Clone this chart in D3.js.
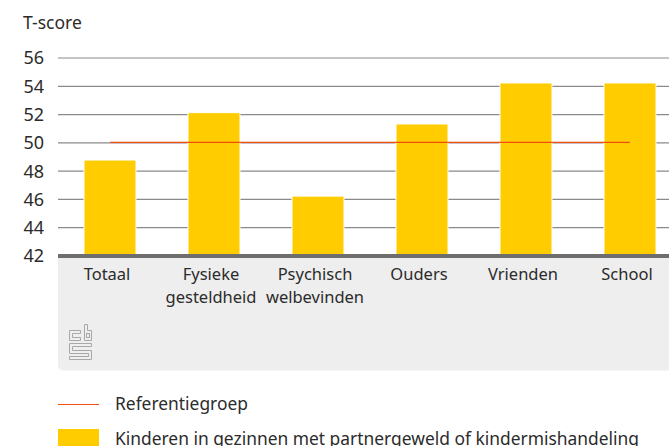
<!DOCTYPE html>
<html>
<head>
<meta charset="utf-8">
<script src="https://cdn.jsdelivr.net/npm/d3@7"></script>
<style>
  html, body { margin: 0; padding: 0; background: #fff; }
  svg { display: block; }
  text { font-family: "Noto Sans", sans-serif; fill: #2b2b2b; }
</style>
</head>
<body>
<div id="chart"></div>
<script>
var categories = [["Totaal"], ["Fysieke", "gesteldheid"], ["Psychisch", "welbevinden"], ["Ouders"], ["Vrienden"], ["School"]];
var scores = [48.75, 52.1, 46.2, 51.3, 54.2, 54.2];
var referentie = [50, 50, 50, 50, 50, 50];
var yTicks = [42, 44, 46, 48, 50, 52, 54, 56];
var legendLabels = ["Referentiegroep", "Kinderen in gezinnen met partnergeweld of kindermishandeling"];

var width = 669;
var height = 446;
var left = 58;
var top_ = 57.5;
var bottom = 255.5;

var svg = d3.select("#chart").append("svg")
  .attr("width", width)
  .attr("height", height);

// last band runs past the right edge, same as the reference
var x = d3.scaleBand()
  .domain(d3.range(categories.length))
  .range([left, left + 624])
  .paddingInner(0.5)
  .paddingOuter(0.25);

var y = d3.scaleLinear()
  .domain([42, 56])
  .range([bottom, top_]);

// grey panel under the axis
svg.append("path")
  .attr("d", "M" + left + ",256H" + width + "V370.5H" + (left + 6) + "Q" + left + ",370.5 " + left + ",364.5Z")
  .attr("fill", "#eeeeee");

svg.append("text")
  .attr("x", 23).attr("y", 29)
  .style("font-size", "17.5px")
  .text("T-score");

// y axis and gridlines
var yAxis = svg.append("g")
  .attr("transform", "translate(" + left + ",0)")
  .call(d3.axisLeft(y).tickValues(yTicks).tickSize(0).tickPadding(14));
yAxis.select(".domain").remove();
yAxis.selectAll("text").style("font-size", "18px").attr("dy", "0.36em").style("fill", "#2b2b2b").style("font-family", "'Noto Sans', sans-serif");
yAxis.selectAll("line")
  .attr("x2", width - left)
  .attr("stroke", "#8a8a8a")
  .attr("stroke-width", 1.2);

// bars
svg.append("g").selectAll("rect")
  .data(scores)
  .enter()
  .append("rect")
    .attr("x", (d, i) => x(i))
    .attr("y", d => y(d))
    .attr("width", x.bandwidth())
    .attr("height", d => bottom - y(d))
    .attr("fill", "#ffcc00")
    .attr("stroke", "#ffffff")
    .attr("stroke-width", 1);

// x axis
var xAxis = svg.append("g")
  .attr("transform", "translate(0," + bottom + ")")
  .call(d3.axisBottom(x).tickSize(0).tickFormat(""));
xAxis.select(".domain").remove();
svg.append("rect")
  .attr("x", left).attr("y", 254)
  .attr("width", width - left).attr("height", 4)
  .attr("fill", "#6e6e6e");

var labels = svg.append("g").selectAll("text")
  .data(categories)
  .enter()
  .append("text")
    .attr("text-anchor", "middle")
    .style("font-size", "16.5px");
labels.selectAll("tspan")
  .data((d, i) => d.map(t => ({t: t, i: i})))
  .enter()
  .append("tspan")
    .attr("x", d => x(d.i) + x.bandwidth() / 2 - 3)
    .attr("y", (d, j) => 280 + j * 23)
    .text(d => d.t);

// reference line
var refLine = d3.line()
  .x((d, i) => x(i) + x.bandwidth() / 2)
  .y(d => y(d));
svg.append("path")
  .datum(referentie)
  .attr("d", refLine)
  .attr("fill", "none")
  .attr("stroke", "#f04e0f")
  .attr("stroke-width", 1.2);

// cbs logo
var logo = svg.append("g")
  .attr("fill", "none")
  .attr("stroke", "#a8a8a8")
  .attr("stroke-width", 1);
logo.append("path").attr("d", "M80.5,330.5H69.5V340.5H80.5V337.5H72.5V333.5H80.5Z");
logo.append("path").attr("d", "M84.5,324.5H87.5V330.5H91.5V340.5H84.5Z");
logo.append("rect").attr("x", 86.5).attr("y", 333.5).attr("width", 3).attr("height", 4);
logo.append("path").attr("d", "M69.5,343.5H91.5V346.5H72.5V350.5H91.5V359.5H69.5V356.5H88.5V353.5H69.5Z");

// legend
svg.append("line")
  .attr("x1", left).attr("x2", 99)
  .attr("y1", 404.5).attr("y2", 404.5)
  .attr("stroke", "#f04e0f")
  .attr("stroke-width", 1.2);
svg.append("rect")
  .attr("x", left).attr("y", 429)
  .attr("width", 41).attr("height", 17)
  .attr("fill", "#ffcc00");
svg.append("g").selectAll("text")
  .data(legendLabels)
  .enter()
  .append("text")
    .attr("x", 115)
    .attr("y", (d, i) => 410 + i * 35)
    .style("font-size", "17.4px")
    .text(d => d);
</script>
</body>
</html>
